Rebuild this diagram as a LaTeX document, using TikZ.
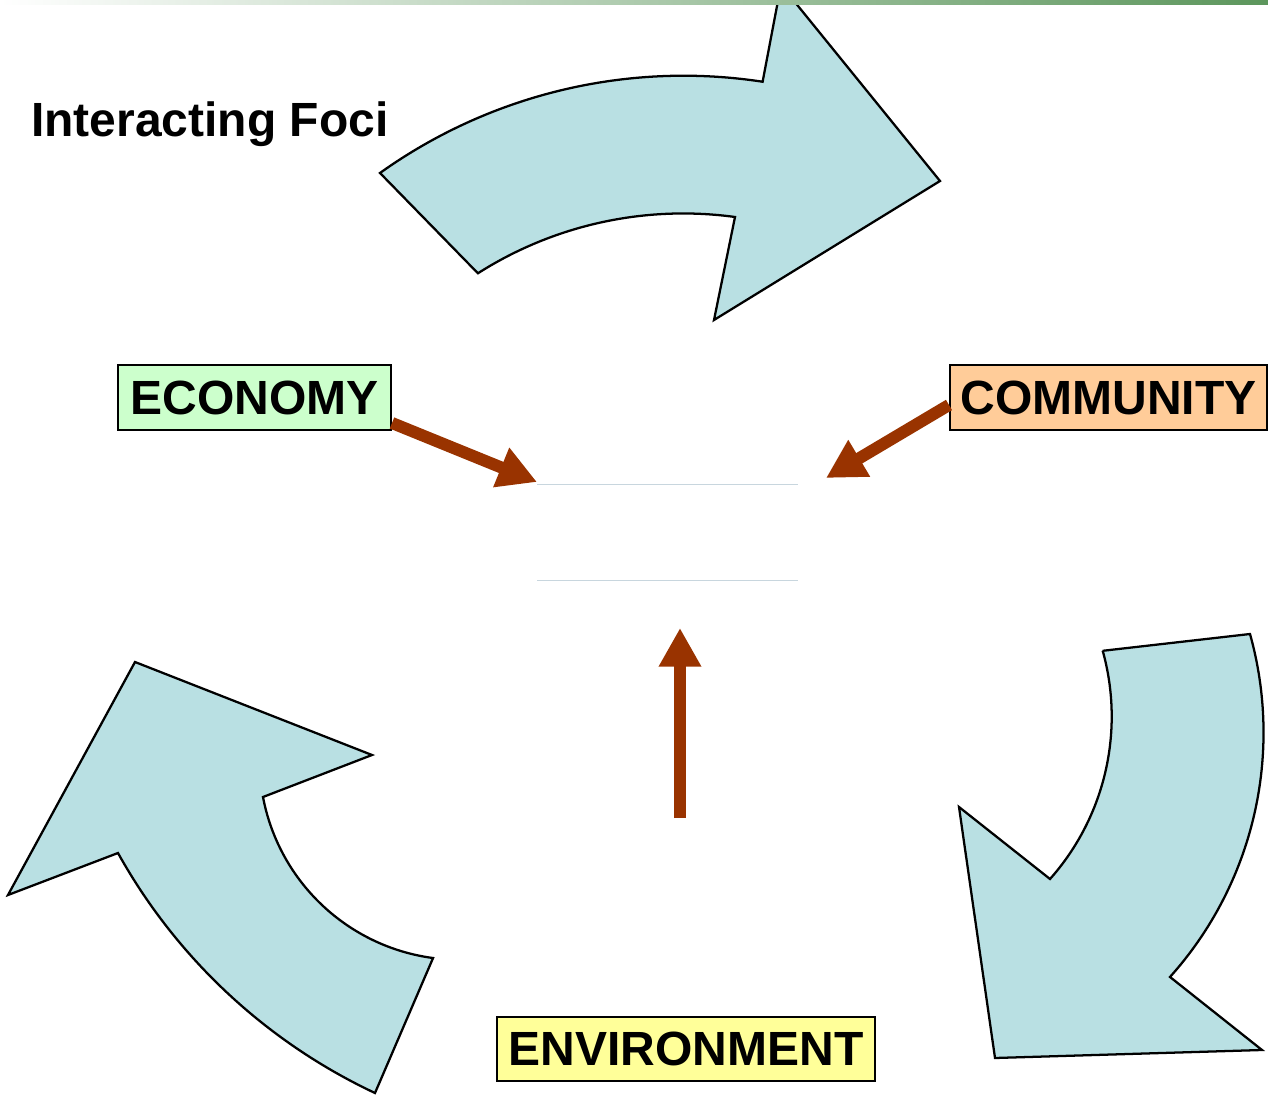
\documentclass[tikz,border=0pt]{standalone}
\usepackage{fontspec}
\setmainfont{Liberation Sans}
\usepackage{xcolor}
\usetikzlibrary{arrows.meta}

\definecolor{shaft}{RGB}{153,51,0}
\definecolor{bluearc}{RGB}{185,224,227}
\definecolor{econ}{RGB}{204,255,204}
\definecolor{comm}{RGB}{255,204,153}
\definecolor{envi}{RGB}{255,255,153}
\definecolor{barleaf}{RGB}{92,150,92}
\definecolor{rim}{RGB}{200,214,222}

\begin{document}
\begin{tikzpicture}[x=0.75pt,y=-0.75pt,
  focus/.style={draw=black,line width=1.5pt,inner sep=0pt,minimum height=48.75pt,
    font=\fontsize{36}{43}\selectfont\bfseries},
  loop/.style={fill=bluearc,draw=black,line width=1.7pt,line join=miter},
  link/.style={draw=shaft,line width=9pt}]
\clip (0,0) rectangle (1268,1102);

% the three turning arrows
\filldraw[loop] (380,173) arc[start angle=-125.55,end angle=-81.28,radius=522]
    -- (781,-15) -- (940,181) -- (714,320) -- (735,217)
    arc[start angle=-82.2,end angle=-122.5,radius=382] -- cycle;
\filldraw[loop] (1102.7,650.8) -- (1250,634)
    arc[start angle=-15.63,end angle=41.89,radius=366]
    -- (1262,1050) -- (995,1058) -- (959,807) -- (1050,879)
    arc[start angle=41.6,end angle=-15.6,radius=244.7] -- cycle;
\filldraw[loop] (135,662) -- (372,755) -- (263,797)
    arc[start angle=169.28,end angle=97.6,radius=200] -- (375,1093)
    arc[start angle=115.17,end angle=150.91,radius=573] -- (8,895) -- cycle;

\shade[left color=white,right color=barleaf] (0,0) rectangle (1268,5);

\node[anchor=base west,inner sep=0pt,font=\fontsize{36}{43}\selectfont\bfseries]
    (title) at (31,137) {Interacting Foci};

% empty middle box
\node[minimum width=195.75pt,minimum height=72pt,outer sep=0pt] (core) at (667.5,532) {};
\draw[rim] (core.north west) -- (core.north east);
\draw[rim] (core.south west) -- (core.south east);

\node[focus,fill=econ,minimum width=204.75pt] (eco) at (254.5,397.5) {ECONOMY};
\node[focus,fill=comm,minimum width=237.75pt] (com) at (1108.5,397.5) {COMMUNITY};
\node[focus,fill=envi,minimum width=283.5pt,minimum height=48pt] (env) at (686,1049) {ENVIRONMENT};

\coordinate (ecotip) at (537,482);
\coordinate (comtip) at (826,478);
\coordinate (envtail) at (680,818);
\coordinate (envtip) at (680,628);

\begin{scope}[>={Triangle[width=30pt,length=29pt]}]
    \draw[link,->] ([yshift=6pt]eco.south east) -- (ecotip);
    \draw[link,->] ([yshift=-5.6pt]com.west) -- (comtip);
    \draw[link,->] (envtail) -- (envtip);
\end{scope}
\end{tikzpicture}
\end{document}
